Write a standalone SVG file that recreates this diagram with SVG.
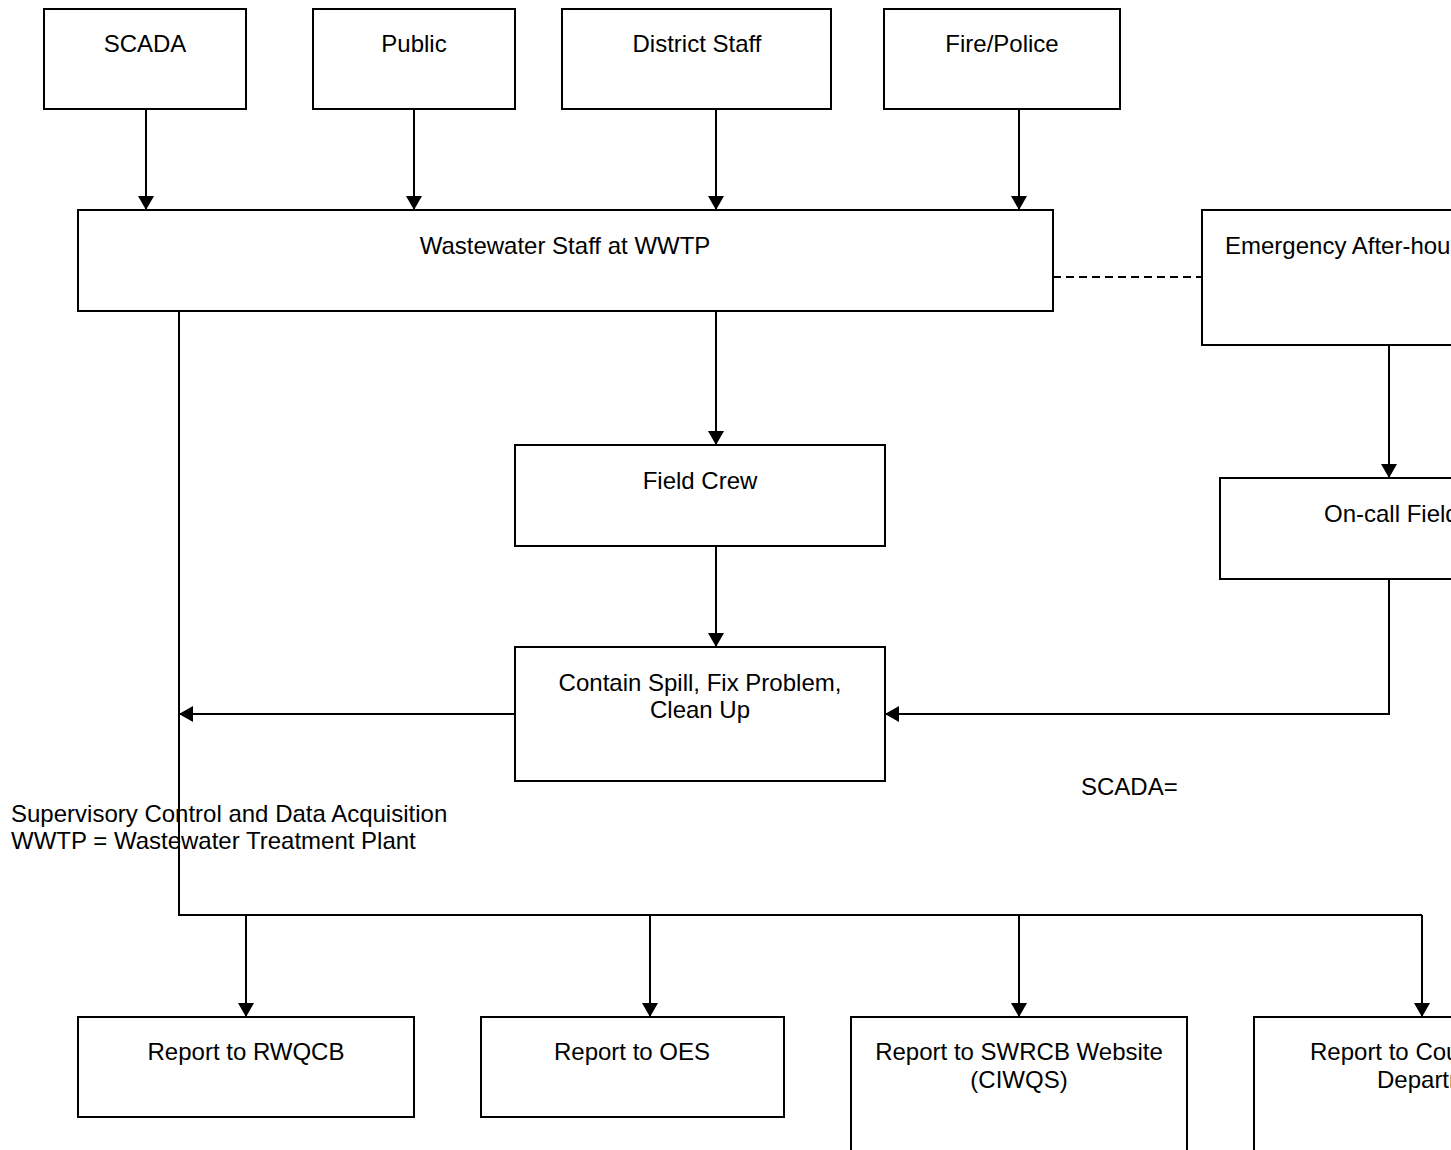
<svg xmlns="http://www.w3.org/2000/svg" width="1451" height="1150" viewBox="0 0 1451 1150">
<style>
.box{fill:#fff;stroke:#000;stroke-width:2}
.t{font-family:"Liberation Sans",Arial,sans-serif;font-size:24px;fill:#000}
.c{text-anchor:middle}
.ln{fill:none;stroke:#000;stroke-width:2}
</style>
<defs>
<marker id="ah" viewBox="0 0 14 16" refX="14" refY="8" markerWidth="14" markerHeight="16" markerUnits="userSpaceOnUse" orient="auto">
<path d="M0,0 L14,8 L0,16 Z" fill="#000"/>
</marker>
</defs>
<rect width="1451" height="1150" fill="#fff"/>
<g id="connectors">
<line class="ln" x1="146" y1="109" x2="146" y2="210" marker-end="url(#ah)"/>
<line class="ln" x1="414" y1="109" x2="414" y2="210" marker-end="url(#ah)"/>
<line class="ln" x1="716" y1="109" x2="716" y2="210" marker-end="url(#ah)"/>
<line class="ln" x1="1019" y1="109" x2="1019" y2="210" marker-end="url(#ah)"/>
<line class="ln" x1="1053" y1="277" x2="1202" y2="277" stroke-dasharray="8,5"/>
<line class="ln" x1="716" y1="311" x2="716" y2="445" marker-end="url(#ah)"/>
<line class="ln" x1="716" y1="546" x2="716" y2="647" marker-end="url(#ah)"/>
<line class="ln" x1="1389" y1="345" x2="1389" y2="478" marker-end="url(#ah)"/>
<polyline class="ln" points="1389,579 1389,714 885,714" marker-end="url(#ah)"/>
<line class="ln" x1="515" y1="714" x2="179" y2="714" marker-end="url(#ah)"/>
<polyline class="ln" points="179,311 179,915 1422,915"/>
<line class="ln" x1="246" y1="915" x2="246" y2="1017" marker-end="url(#ah)"/>
<line class="ln" x1="650" y1="915" x2="650" y2="1017" marker-end="url(#ah)"/>
<line class="ln" x1="1019" y1="915" x2="1019" y2="1017" marker-end="url(#ah)"/>
<line class="ln" x1="1422" y1="915" x2="1422" y2="1017" marker-end="url(#ah)"/>
</g>
<g id="scada"><rect class="box" x="44" y="9" width="202" height="100"/><text class="t c" x="145" y="52">SCADA</text></g>
<g id="public"><rect class="box" x="313" y="9" width="202" height="100"/><text class="t c" x="414" y="52">Public</text></g>
<g id="district"><rect class="box" x="562" y="9" width="269" height="100"/><text class="t c" x="697" y="52">District Staff</text></g>
<g id="fire"><rect class="box" x="884" y="9" width="236" height="100"/><text class="t c" x="1002" y="52">Fire/Police</text></g>
<g id="wwtp"><rect class="box" x="78" y="210" width="975" height="101"/><text class="t c" x="565" y="254">Wastewater Staff at WWTP</text></g>
<g id="emergency"><rect class="box" x="1202" y="210" width="300" height="135"/><text class="t" x="1225" y="254">Emergency After-hours</text></g>
<g id="fieldcrew"><rect class="box" x="515" y="445" width="370" height="101"/><text class="t c" x="700" y="489">Field Crew</text></g>
<g id="oncall"><rect class="box" x="1220" y="478" width="300" height="101"/><text class="t" x="1324" y="522">On-call Field</text></g>
<g id="contain"><rect class="box" x="515" y="647" width="370" height="134"/><text class="t c" x="700" y="691">Contain Spill, Fix Problem,</text><text class="t c" x="700" y="718">Clean Up</text></g>
<g id="legend"><text class="t" x="1081" y="795">SCADA=</text><text class="t" x="11" y="822">Supervisory Control and Data Acquisition</text><text class="t" x="11" y="849">WWTP = Wastewater Treatment Plant</text></g>
<g id="rwqcb"><rect class="box" x="78" y="1017" width="336" height="100"/><text class="t c" x="246" y="1060">Report to RWQCB</text></g>
<g id="oes"><rect class="box" x="481" y="1017" width="303" height="100"/><text class="t c" x="632" y="1060">Report to OES</text></g>
<g id="swrcb"><rect class="box" x="851" y="1017" width="336" height="160"/><text class="t c" x="1019" y="1060">Report to SWRCB Website</text><text class="t c" x="1019" y="1088">(CIWQS)</text></g>
<g id="county"><rect class="box" x="1254" y="1017" width="336" height="160"/><text class="t" x="1310" y="1060">Report to County</text><text class="t" x="1377" y="1088">Department</text></g>
</svg>
